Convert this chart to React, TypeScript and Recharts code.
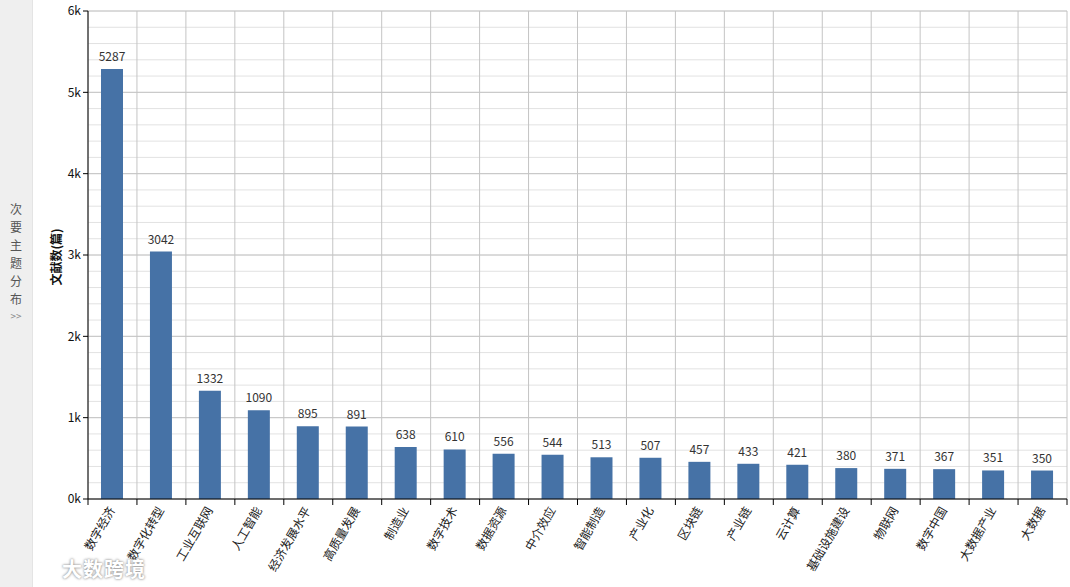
import React from 'react';
import { BarChart, Bar, XAxis, YAxis, CartesianGrid, LabelList } from 'recharts';

const categories = [
  '数字经济', '数字化转型', '工业互联网', '人工智能', '经济发展水平',
  '高质量发展', '制造业', '数字技术', '数据资源', '中介效应',
  '智能制造', '产业化', '区块链', '产业链', '云计算',
  '基础设施建设', '物联网', '数字中国', '大数据产业', '大数据',
];
const counts = [
  5287, 3042, 1332, 1090, 895, 891, 638, 610, 556, 544,
  513, 507, 457, 433, 421, 380, 371, 367, 351, 350,
];
const majorTicks = [0, 1000, 2000, 3000, 4000, 5000, 6000];
const minorTicks = [
  0, 200, 400, 600, 800, 1000, 1200, 1400, 1600, 1800, 2000,
  2200, 2400, 2600, 2800, 3000, 3200, 3400, 3600, 3800, 4000,
  4200, 4400, 4600, 4800, 5000, 5200, 5400, 5600, 5800, 6000,
];
const sideTitle = ['次', '要', '主', '题', '分', '布'];

const data = categories.map((name, i) => ({ name, count: counts[i] }));

const W = 1070;
const H = 587;
const AXIS_W = 88;
const RIGHT = 3;
const Y_MAX = 6000;
const band = (W - AXIS_W - RIGHT) / categories.length;

const XTick = (props: any) => {
  const { x, y, payload, index } = props;
  return (
    <g>
      <line x1={x - band / 2} y1={y} x2={x - band / 2} y2={y + 6} stroke="#000" />
      {index === categories.length - 1 && (
        <line x1={x + band / 2} y1={y} x2={x + band / 2} y2={y + 6} stroke="#000" />
      )}
      <text
        x={x + 3}
        y={y + 11}
        textAnchor="end"
        fontSize={12}
        fill="#222"
        transform={`rotate(-60 ${x + 3} ${y + 11})`}
      >
        {payload.value}
      </text>
    </g>
  );
};

export default function App() {
  return (
    <div
      style={{
        position: 'absolute',
        left: 0,
        top: 0,
        width: W,
        height: H,
        background: '#fff',
        overflow: 'hidden',
        fontFamily: "'Noto Sans CJK SC', 'Noto Sans', sans-serif",
      }}
    >
      <div
        style={{
          position: 'absolute',
          left: 0,
          top: 0,
          width: 32,
          height: H,
          background: '#efefef',
          borderRight: '1px solid #e4e4e4',
        }}
      >
        {sideTitle.map((c, i) => (
          <div
            key={c}
            style={{
              position: 'absolute',
              left: 0,
              width: 32,
              top: 201 + i * 18,
              textAlign: 'center',
              fontSize: 12,
              lineHeight: '16px',
              color: '#555',
            }}
          >
            {c}
          </div>
        ))}
        <div
          style={{
            position: 'absolute',
            left: 0,
            width: 32,
            top: 310,
            textAlign: 'center',
            fontSize: 10,
            lineHeight: '12px',
            color: '#888',
          }}
        >
          &gt;&gt;
        </div>
      </div>

      <div
        style={{
          position: 'absolute',
          left: 55,
          top: 257,
          transform: 'translate(-50%, -50%) rotate(-90deg)',
          fontSize: 12,
          fontWeight: 'bold',
          color: '#111',
          whiteSpace: 'nowrap',
        }}
      >
        文献数(篇)
      </div>

      <div style={{ position: 'absolute', left: 0, top: 0 }}>
        <BarChart width={W} height={H} data={data} margin={{ top: 11, right: RIGHT, bottom: 0, left: 0 }}>
          <CartesianGrid
            vertical={false}
            stroke="#e2e2e2"
            horizontalCoordinatesGenerator={({ offset }: any) =>
              minorTicks.map((t) => offset.top + offset.height * (1 - t / Y_MAX))
            }
          />
          <CartesianGrid
            stroke="#c4c4c4"
            horizontalCoordinatesGenerator={({ offset }: any) =>
              majorTicks.map((t) => offset.top + offset.height * (1 - t / Y_MAX))
            }
            verticalCoordinatesGenerator={({ offset }: any) =>
              categories
                .map((_, i) => offset.left + i * (offset.width / categories.length))
                .concat(offset.left + offset.width)
            }
          />
          <XAxis
            dataKey="name"
            interval={0}
            height={88}
            tickSize={0}
            tickMargin={0}
            axisLine={{ stroke: '#000' }}
            tick={<XTick />}
          />
          <YAxis
            width={AXIS_W}
            domain={[0, Y_MAX]}
            ticks={majorTicks}
            tickFormatter={(v: number) => `${v / 1000}k`}
            tick={{ fontSize: 12, fill: '#111' }}
            tickSize={5}
            tickMargin={2}
            axisLine={{ stroke: '#000' }}
            tickLine={{ stroke: '#000' }}
          />
          <Bar dataKey="count" fill="#4672a6" barSize={22} isAnimationActive={false}>
            <LabelList dataKey="count" position="top" offset={8} fontSize={12} fill="#333" />
          </Bar>
        </BarChart>
      </div>

      <div
        style={{
          position: 'absolute',
          left: 62,
          top: 554,
          fontSize: 20,
          fontWeight: 'bold',
          color: '#fff',
          textShadow: '0 0 3px #999, 0 0 2px #aaa',
          letterSpacing: 1,
        }}
      >
        大数跨境
      </div>
    </div>
  );
}
